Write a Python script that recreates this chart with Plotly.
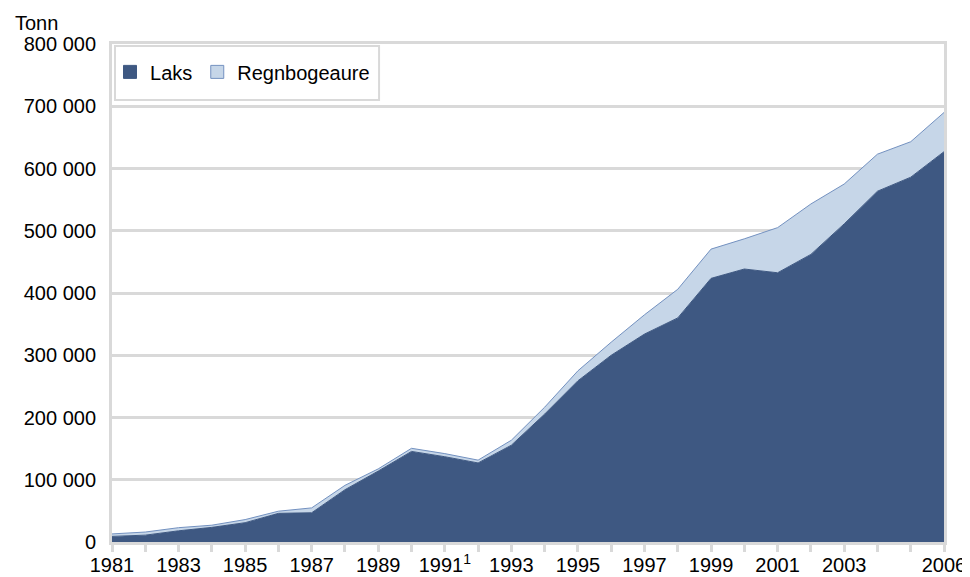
import plotly.graph_objects as go

years = list(range(1981, 2007))
laks = [9000, 11000, 18000, 23500, 31000, 46000, 47000, 84000, 114000, 145500,
        137000, 127000, 155500, 205500, 259000, 300000, 334000, 360000, 423500, 438500,
        432500, 462000, 511000, 563500, 586000, 627000]
regnbogeaure = [4000, 5000, 5000, 3500, 5000, 3500, 7800, 7000, 3500, 5000,
                5000, 4500, 8000, 11000, 16000, 21000, 31000, 46000, 47000, 48500,
                72500, 81000, 64000, 59500, 57000, 63000]

x_tick_years = years
x_tick_text = ["1981", "", "1983", "", "1985", "", "1987", "", "1989", "",
               "1991<sup>1</sup>", "", "1993", "", "1995", "", "1997", "", "1999", "",
               "2001", "", "2003", "", "", "2006"]
y_tick_vals = [0, 100000, 200000, 300000, 400000, 500000, 600000, 700000, 800000]
y_tick_text = ["0", "100 000", "200 000", "300 000", "400 000", "500 000",
               "600 000", "700 000", "800 000"]

DARK = "#3e5882"
LIGHT = "#c6d6e8"
LIGHT_LINE = "#7391c0"
GRID = "#d9d9d9"
FONT = "Liberation Sans, Arial, sans-serif"

fig = go.Figure()
fig.add_trace(go.Scatter(x=years, y=laks, name="Laks", stackgroup="one",
                         mode="lines", line=dict(color=DARK, width=1),
                         fillcolor=DARK, showlegend=False, hoverinfo="skip"))
fig.add_trace(go.Scatter(x=years, y=regnbogeaure, name="Regnbogeaure", stackgroup="one",
                         mode="lines", line=dict(color=LIGHT_LINE, width=1),
                         fillcolor=LIGHT, showlegend=False, hoverinfo="skip"))
# legend entries
fig.add_trace(go.Scatter(x=[None], y=[None], mode="markers", name="Laks",
                         marker=dict(symbol="square", size=13, color=DARK,
                                     line=dict(color=DARK, width=1))))
fig.add_trace(go.Scatter(x=[None], y=[None], mode="markers", name="Regnbogeaure",
                         marker=dict(symbol="square", size=13, color=LIGHT,
                                     line=dict(color=LIGHT_LINE, width=1))))

# page body has an 8px margin: figure is 962x569 placed at (8, 8)
fig.update_layout(
    width=962, height=569,
    margin=dict(l=104, r=26, t=36, b=35, autoexpand=False),
    paper_bgcolor="white", plot_bgcolor="white",
    font=dict(family=FONT, size=20, color="black"),
    legend=dict(orientation="h", x=-0.0024, y=0.944, xanchor="left", yanchor="middle",
                bgcolor="rgba(0,0,0,0)", borderwidth=0,
                font=dict(family=FONT, size=20, color="black"),
                itemwidth=30, traceorder="normal"),
    shapes=[dict(type="rect", xref="paper", yref="paper",
                 x0=0.0036, x1=0.321, y0=0.8876, y1=0.996,
                 line=dict(color=GRID, width=2), fillcolor="white", layer="above")],
    annotations=[dict(text="Tonn", xref="paper", yref="paper",
                      x=-0.119, y=1.042, xanchor="left", yanchor="middle",
                      showarrow=False, font=dict(family=FONT, size=20, color="black"))],
)
fig.update_xaxes(range=[1981, 2006], tickvals=x_tick_years, ticktext=x_tick_text,
                 showgrid=False, showline=True, linecolor=GRID, linewidth=3, mirror=True,
                 ticks="outside", ticklen=7, tickwidth=3, tickcolor=GRID,
                 ticklabelstandoff=-4,
                 tickangle=0, zeroline=False, automargin=False)
fig.update_yaxes(range=[0, 800000], tickvals=y_tick_vals, ticktext=y_tick_text,
                 showgrid=True, gridcolor=GRID, gridwidth=3,
                 showline=True, linecolor=GRID, linewidth=3, mirror=True,
                 ticks="", ticklabelstandoff=9, zeroline=False, automargin=False)

fig.write_html("out.html")
